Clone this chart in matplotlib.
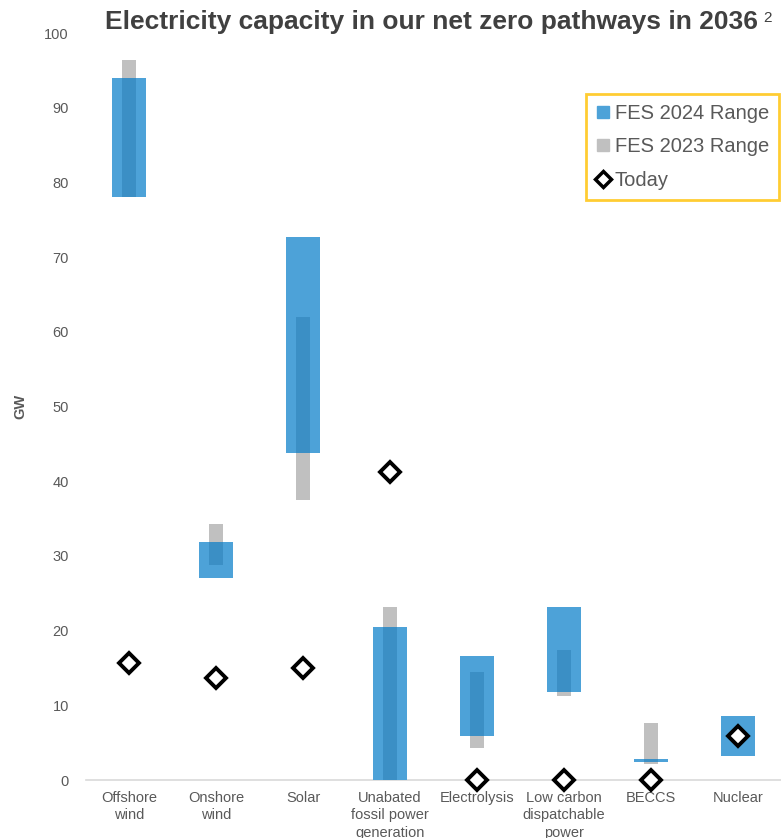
import matplotlib
matplotlib.use("Agg")
from matplotlib import pyplot as plt
from matplotlib.lines import Line2D
import numpy as np

categorias = ["Offshore\nwind", "Onshore\nwind", "Solar", "Unabated\nfossil power\ngeneration",
              "Electrolysis", "Low carbon\ndispatchable\npower", "BECCS", "Nuclear"]

# rangos FES 2024 (min, max) en GW
fes24_min = [78.0, 27.0, 43.8, 0.0, 5.9, 11.8, 2.4, 3.2]
fes24_max = [94.0, 31.9, 72.7, 20.5, 16.6, 23.2, 2.8, 8.6]

# rangos FES 2023 (Nuclear sin rango)
fes23_min = [78.0, 28.8, 37.5, 0.0, 4.3, 11.2, 2.1, np.nan]
fes23_max = [96.4, 34.3, 62.0, 23.2, 14.5, 17.4, 7.6, np.nan]

hoy = [15.7, 13.7, 15.0, 41.2, 0.0, 0.0, 0.0, 5.9]

azul = "#4da2d8"
azul_osc = "#3b8fc5"
gris = "#c0c0c0"
texto = "#595959"

plt.rcParams['font.family'] = ['Liberation Sans', 'DejaVu Sans']

fig = plt.figure(figsize=(7.81, 8.38), dpi=100)
ax = fig.add_axes([0.1095, 0.0692, 0.891, 0.8914])

x = np.arange(len(categorias))
ancho24 = 0.40
ancho23 = 0.16

f23_min = np.array(fes23_min)
f23_max = np.array(fes23_max)
f24_min = np.array(fes24_min)
f24_max = np.array(fes24_max)

ax.bar(x, f23_max - f23_min, bottom=f23_min, width=ancho23, color=gris, zorder=2)
ax.bar(x, f24_max - f24_min, bottom=f24_min, width=ancho24, color=azul, zorder=3)

# zona donde se solapan ambos rangos
sol_min = np.maximum(f23_min, f24_min)
sol_max = np.minimum(f23_max, f24_max)
alto = np.where(sol_max > sol_min, sol_max - sol_min, np.nan)
ax.bar(x, alto, bottom=sol_min, width=ancho23, color=azul_osc, zorder=4)

ax.plot(x, hoy, linestyle="none", marker="D", markersize=10, markerfacecolor="white",
        markeredgecolor="black", markeredgewidth=2.8, zorder=6, clip_on=False)

ax.set_xlim(-0.5, len(categorias) - 0.5)
ax.set_ylim(0, 100)
ax.set_yticks(np.arange(0, 101, 10))
ax.tick_params(axis="y", length=0, labelsize=10.5, labelcolor=texto, pad=12)
ax.set_xticks(x)
ax.set_xticklabels(categorias, fontsize=10.5, color=texto, linespacing=1.3)
ax.tick_params(axis="x", length=0, pad=8)

for lado in ["top", "right", "left"]:
    ax.spines[lado].set_visible(False)
ax.spines["bottom"].set_color("#d9d9d9")
ax.spines["bottom"].set_linewidth(1.2)

fig.text(0.026, 0.515, "GW", rotation=90, fontsize=10.5, fontweight="bold",
         color=texto, ha="center", va="center")

titulo = fig.text(0.134, 0.974, "Electricity capacity in our net zero pathways in 2036",
                  fontsize=19, fontweight="bold", color="#404040", ha="left", va="center")
fig.text(0.977, 0.979, "2", fontsize=11, color="#404040", ha="left", va="center")

manejadores = [
    Line2D([], [], linestyle="none", marker="s", markersize=8, color=azul, label="FES 2024 Range"),
    Line2D([], [], linestyle="none", marker="s", markersize=8, color=gris, label="FES 2023 Range"),
    Line2D([], [], linestyle="none", marker="D", markersize=8, markerfacecolor="white",
           markeredgecolor="black", markeredgewidth=2.5, label="Today"),
]
leg = fig.legend(handles=manejadores, loc="upper left", bbox_to_anchor=(0.738, 0.9),
                 frameon=True, fancybox=False, fontsize=14.5, handlelength=0.6,
                 handletextpad=0.3, labelspacing=0.72, borderpad=0.5, labelcolor=texto)
leg.get_frame().set_edgecolor("#ffc000")
leg.get_frame().set_linewidth(2)

fig.savefig("out.png", dpi=100)
